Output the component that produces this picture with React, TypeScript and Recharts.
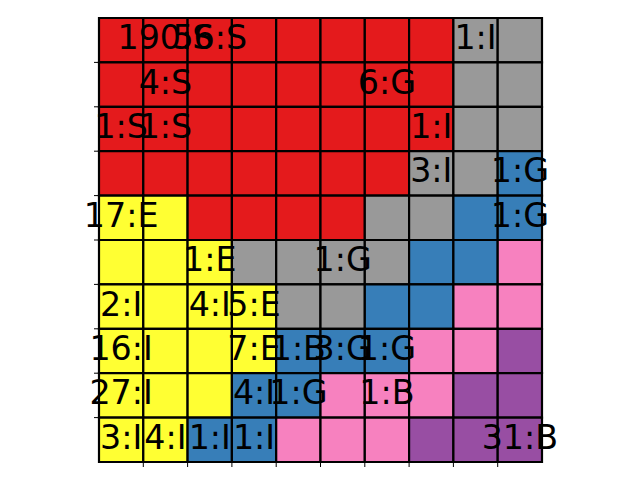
import { ScatterChart, Scatter, XAxis, YAxis, ReferenceArea } from "recharts"

// Set1 colours, keyed by the letter used in GRID_ROWS
const PALETTE: Record<string, string> = {
    R: "#e41a1c",
    A: "#999999",
    U: "#377eb8",
    P: "#f781bf",
    V: "#984ea3",
    Y: "#ffff33",
}

// one string per row, top to bottom, one letter per cell
const GRID_ROWS = [
    "RRRRRRRRAA",
    "RRRRRRRRAA",
    "RRRRRRRRAA",
    "RRRRRRRAAU",
    "YYRRRRAAUU",
    "YYYAAAAUUP",
    "YYYYAAUUPP",
    "YYYYUUUPPV",
    "YYYUUPPPVV",
    "YYUUPPPVVV",
]

const LABEL_ROWS = [0, 0, 0, 1, 1, 2, 2, 2, 3, 3, 4, 4, 5, 5, 6, 6, 6, 7, 7, 7, 7, 7, 8, 8, 8, 8, 9, 9, 9, 9, 9]
const LABEL_COLS = [1, 2, 8, 1, 6, 0, 1, 7, 7, 9, 0, 9, 2, 5, 0, 2, 3, 0, 3, 4, 5, 6, 0, 3, 4, 6, 0, 1, 2, 3, 9]
const LABEL_TEXTS = [
    "190:S", "56:S", "1:I",
    "4:S", "6:G",
    "1:S", "1:S", "1:I",
    "3:I", "1:G",
    "17:E", "1:G",
    "1:E", "1:G",
    "2:I", "4:I", "5:E",
    "16:I", "7:E", "1:B", "3:G", "1:G",
    "27:I", "4:I", "1:G", "1:B",
    "3:I", "4:I", "1:I", "1:I", "31:B",
]

const TICKS = [1, 2, 3, 4, 5, 6, 7, 8, 9]
const FONT_SIZE = 33.3

const cells = GRID_ROWS.flatMap((row, r) =>
    row.split("").map((code, c) => ({ r, c, fill: PALETTE[code] }))
)

const labels = LABEL_TEXTS.map((text, i) => ({
    x: LABEL_COLS[i] + 0.5,
    y: LABEL_ROWS[i] + 0.5,
    text,
}))

function LabelShape(props: any) {
    return (
        <text
            x={props.cx}
            y={props.cy + FONT_SIZE * 0.27}
            textAnchor="middle"
            fontSize={FONT_SIZE}
            fontFamily="DejaVu Sans"
            fill="#000"
        >
            {props.payload.text}
        </text>
    )
}

export default function App() {
    return (
        <div style={{ position: "absolute", left: 0, top: 0, background: "#fff" }}>
            <ScatterChart width={640} height={480} margin={{ top: 18, right: 98, left: 89, bottom: 8 }}>
                <XAxis
                    type="number"
                    dataKey="x"
                    domain={[0, 10]}
                    ticks={TICKS}
                    tickFormatter={() => ""}
                    tickSize={5}
                    tickLine={{ stroke: "#000" }}
                    axisLine={false}
                    height={10}
                />
                <YAxis
                    type="number"
                    dataKey="y"
                    domain={[0, 10]}
                    reversed
                    ticks={TICKS}
                    tickFormatter={() => ""}
                    tickSize={5}
                    tickLine={{ stroke: "#000" }}
                    axisLine={false}
                    width={10}
                />
                {cells.map((cell) => (
                    <ReferenceArea
                        key={`${cell.r}-${cell.c}`}
                        x1={cell.c}
                        x2={cell.c + 1}
                        y1={cell.r}
                        y2={cell.r + 1}
                        fill={cell.fill}
                        fillOpacity={1}
                        stroke="#000"
                        strokeWidth={2.2}
                    />
                ))}
                <Scatter data={labels} shape={LabelShape} isAnimationActive={false} />
            </ScatterChart>
        </div>
    )
}
